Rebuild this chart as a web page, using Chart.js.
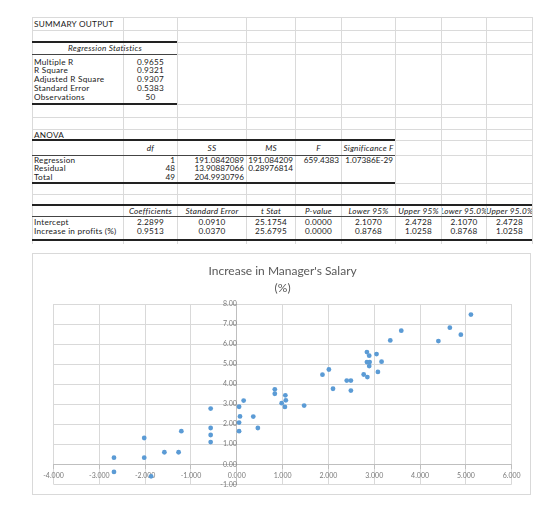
<!DOCTYPE html>
<html>
<head>
<meta charset="utf-8">
<script src="https://cdn.jsdelivr.net/npm/chart.js@4.4.0/dist/chart.umd.min.js"></script>
<style>
  html, body { margin: 0; padding: 0; background: #fff; }
  body { width: 560px; height: 508px; position: relative; overflow: hidden;
         font-family: Lato, 'Open Sans', sans-serif; font-size: 8.2px; color: #1a1a1a; }
  .c { position: absolute; height: 10px; line-height: 10px; white-space: nowrap;
       overflow: hidden; display: flex; align-items: center; letter-spacing: 0.25px; }
  .c.num { overflow: visible; letter-spacing: 0; }
  .ln { position: absolute; }
  #box { position: absolute; left: 32px; top: 253px; width: 499px; height: 242px;
         box-sizing: border-box; border: 1px solid #d9d9d9; background: #fff; }
  #chart { position: absolute; left: 32px; top: 253px; }
</style>
</head>
<body>
<div id="sheet"></div>
<div id="box"></div>
<canvas id="chart" width="499" height="242"></canvas>
<script>
// ---- chart data ----
var profitIncrease = [
  -2.68, -2.68, -2.02, -2.02, -1.87, -1.58, -1.27, -1.21,
  -0.57, -0.57, -0.57, -0.57, 0.05, 0.07, 0.05, 0.05,
  0.15, 0.36, 0.46, 0.83, 0.83, 1.06, 1.07, 0.98,
  1.05, 1.47, 1.87, 2.01, 2.10, 2.40, 2.49, 2.49,
  2.77, 2.85, 3.08, 2.84, 2.89, 3.05, 2.84, 2.90,
  2.89, 3.16, 3.35, 3.59, 4.40, 4.65, 4.89, 5.11
];
var salaryIncrease = [
  0.33, -0.38, 1.31, 0.33, -0.60, 0.60, 0.60, 1.65,
  2.78, 1.81, 1.46, 1.11, 2.87, 2.39, 2.08, 1.65,
  3.18, 2.38, 1.81, 3.74, 3.52, 3.44, 3.19, 3.05,
  2.86, 2.93, 4.47, 4.73, 3.77, 4.18, 4.18, 3.68,
  4.48, 4.35, 4.61, 5.60, 5.42, 5.50, 5.10, 5.10,
  4.90, 5.12, 6.18, 6.67, 6.15, 6.82, 6.47, 7.47
];
var xMin = -4, xMax = 6, yMin = -1, yMax = 8;
var chartTitle = ["Increase in Manager's Salary", "(%)"];

// ---- spreadsheet output ----
var colX = [32, 123, 177, 246, 295, 341, 395, 441, 486, 532];
var sheet = document.getElementById('sheet');

function cell(c1, c2, y, text, align, italic) {
  var d = document.createElement('div');
  d.className = 'c';
  var x1 = colX[c1], x2 = colX[c2];
  d.style.left = (x1 + 1) + 'px';
  d.style.width = (x2 - x1 - 1) + 'px';
  d.style.top = (y - 5) + 'px';
  if (align === 'r') {
    d.className = 'c num';
    d.style.justifyContent = 'flex-end'; d.style.paddingRight = '2px'; d.style.boxSizing = 'border-box';
  }
  else if (align === 'c') { d.style.justifyContent = 'center'; }
  else { d.style.paddingLeft = '1px'; }
  if (italic) d.style.fontStyle = 'italic';
  d.textContent = text;
  sheet.appendChild(d);
}
function hline(x1, x2, y, w, col) {
  var d = document.createElement('div');
  d.className = 'ln';
  d.style.left = x1 + 'px'; d.style.width = (x2 - x1) + 'px';
  d.style.top = (y - w / 2) + 'px'; d.style.height = w + 'px';
  d.style.background = col;
  sheet.appendChild(d);
}
function vline(x, y1, y2, col) {
  var d = document.createElement('div');
  d.className = 'ln';
  d.style.left = x + 'px'; d.style.width = '1px';
  d.style.top = y1 + 'px'; d.style.height = (y2 - y1) + 'px';
  d.style.background = col;
  sheet.appendChild(d);
}

var grid = '#dadada';
[17, 30, 42, 54, 104, 117, 129, 140, 155, 183, 194, 205, 216, 240].forEach(function(y) {
  hline(32, 532, y, 1, grid);
});
colX.forEach(function(x) { vline(x, 17, 244, grid); });

// table borders
hline(32, 177, 42, 1.5, '#222');
hline(32, 177, 54, 1, '#444');
hline(32, 177, 104, 1.5, '#222');
hline(32, 395, 140, 1.5, '#222');
hline(32, 395, 155, 1, '#444');
hline(32, 395, 183, 1.5, '#222');
hline(32, 532, 205, 1.5, '#222');
hline(32, 532, 216, 1, '#444');
hline(32, 532, 240, 1.5, '#222');

cell(0, 1, 23.5, 'SUMMARY OUTPUT', 'l');
cell(0, 2, 48, 'Regression Statistics', 'c', true);
var statNames = ['Multiple R', 'R Square', 'Adjusted R Square', 'Standard Error', 'Observations'];
var statVals = ['0.9655', '0.9321', '0.9307', '0.5383', '50'];
var statY = [61.5, 70.3, 79, 87.8, 96.6];
statNames.forEach(function(n, i) {
  cell(0, 1, statY[i], n, 'l');
  cell(1, 2, statY[i], statVals[i], 'c');
});

cell(0, 1, 134.5, 'ANOVA', 'l');
['df', 'SS', 'MS', 'F', 'Significance F'].forEach(function(h, i) {
  cell(i + 1, i + 2, 148, h, 'c', true);
});
var anova = [
  ['Regression', '1', '191.0842089', '191.084209', '659.4383', '1.07386E-29'],
  ['Residual', '48', '13.90887066', '0.28976814', '', ''],
  ['Total', '49', '204.9930796', '', '', '']
];
var anovaY = [159.5, 168.2, 177];
anova.forEach(function(r, i) {
  cell(0, 1, anovaY[i], r[0], 'l');
  for (var k = 1; k < r.length; k++) if (r[k]) cell(k, k + 1, anovaY[i], r[k], 'r');
});

['Coefficients', 'Standard Error', 't Stat', 'P-value', 'Lower 95%', 'Upper 95%', 'Lower 95.0%', 'Upper 95.0%']
  .forEach(function(h, i) { cell(i + 1, i + 2, 211, h, 'c', true); });
var coef = [
  ['Intercept', '2.2899', '0.0910', '25.1754', '0.0000', '2.1070', '2.4728', '2.1070', '2.4728'],
  ['Increase in profits (%)', '0.9513', '0.0370', '25.6795', '0.0000', '0.8768', '1.0258', '0.8768', '1.0258']
];
var coefY = [222, 231];
coef.forEach(function(r, i) {
  cell(0, 1, coefY[i], r[0], 'l');
  for (var k = 1; k < r.length; k++) cell(k, k + 1, coefY[i], r[k], 'c');
});

// ---- scatter chart ----
var tickFont = { family: 'Lato', size: 7 };
var labelColor = '#7a7a7a';
var points = profitIncrease.map(function(x, i) { return { x: x, y: salaryIncrease[i] }; });

new Chart(document.getElementById('chart'), {
  type: 'scatter',
  data: {
    datasets: [{
      data: points,
      backgroundColor: '#5b9bd5',
      borderWidth: 0,
      pointRadius: 2.4,
      pointHoverRadius: 2.4
    }]
  },
  options: {
    responsive: false,
    animation: false,
    layout: { padding: { left: 21.5, right: 19.3, top: 0, bottom: 10.7 } },
    plugins: {
      legend: { display: false },
      tooltip: { enabled: false },
      title: {
        display: true,
        text: chartTitle,
        color: '#595959',
        font: { family: 'Lato', size: 12, weight: 'normal', lineHeight: 1.375 },
        padding: { top: 10, bottom: 8 }
      }
    },
    scales: {
      x: {
        type: 'linear',
        position: { y: 0 },
        min: xMin, max: xMax,
        ticks: {
          stepSize: 1, autoSkip: false, maxRotation: 0, padding: 3,
          color: labelColor, font: tickFont,
          callback: function(v) { return v.toFixed(3); }
        },
        grid: { color: '#d9d9d9', tickLength: 4, tickColor: '#bfbfbf' },
        border: { color: '#bfbfbf' }
      },
      y: {
        type: 'linear',
        position: { x: 0 },
        min: yMin, max: yMax,
        ticks: {
          stepSize: 1, autoSkip: false, padding: 2,
          color: labelColor, font: tickFont,
          callback: function(v) { return v.toFixed(2); }
        },
        grid: { color: '#d9d9d9', tickLength: 4, tickColor: '#bfbfbf' },
        border: { color: '#bfbfbf' }
      }
    }
  }
});
</script>
</body>
</html>
